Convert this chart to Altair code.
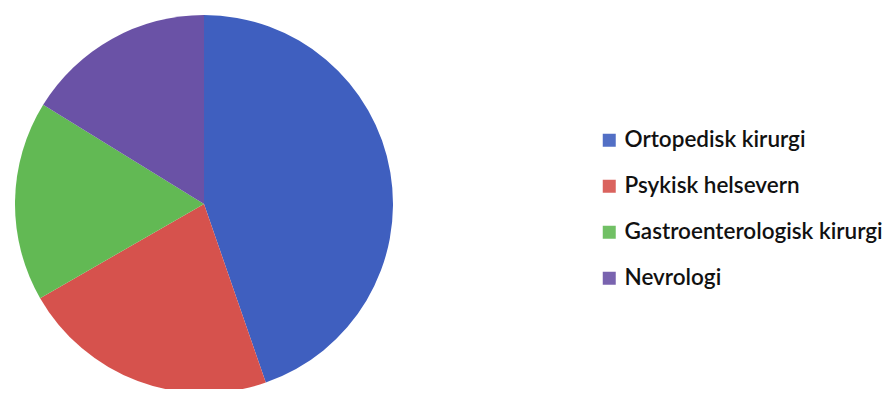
import altair as alt
import pandas as pd

categories = ["Ortopedisk kirurgi", "Psykisk helsevern", "Gastroenterologisk kirurgi", "Nevrologi"]
values = [44.7, 22.0, 17.1, 16.2]
colors = ["#3F5FBF", "#D6524D", "#62B954", "#6A52A6"]

df = pd.DataFrame({"kategori": categories, "verdi": values, "rekkefolge": list(range(len(categories)))})

chart = alt.Chart(df).mark_arc(radius=189).encode(
    theta=alt.Theta("verdi:Q", stack=True),
    order=alt.Order("rekkefolge:Q"),
    x=alt.value(196),
    y=alt.value(196),
    color=alt.Color(
        "kategori:N",
        scale=alt.Scale(domain=categories, range=colors),
        sort=categories,
        legend=alt.Legend(
            title=None,
            orient="none",
            legendX=590,
            legendY=121,
            symbolType="square",
            symbolSize=169,
            symbolStrokeWidth=0,
            symbolOpacity=0.9,
            labelFont="Lato",
            labelFontSize=22.5,
            labelFontWeight=600,
            labelColor="#111111",
            labelOffset=4,
            rowPadding=23,
            padding=0,
            labelLimit=400,
        ),
    ),
).properties(
    width=877,
    height=381,
    autosize=alt.AutoSizeParams(type="none"),
    padding=0,
).configure_view(stroke=None)

chart.save("out.html", embed_options={"renderer": "svg", "actions": False})
